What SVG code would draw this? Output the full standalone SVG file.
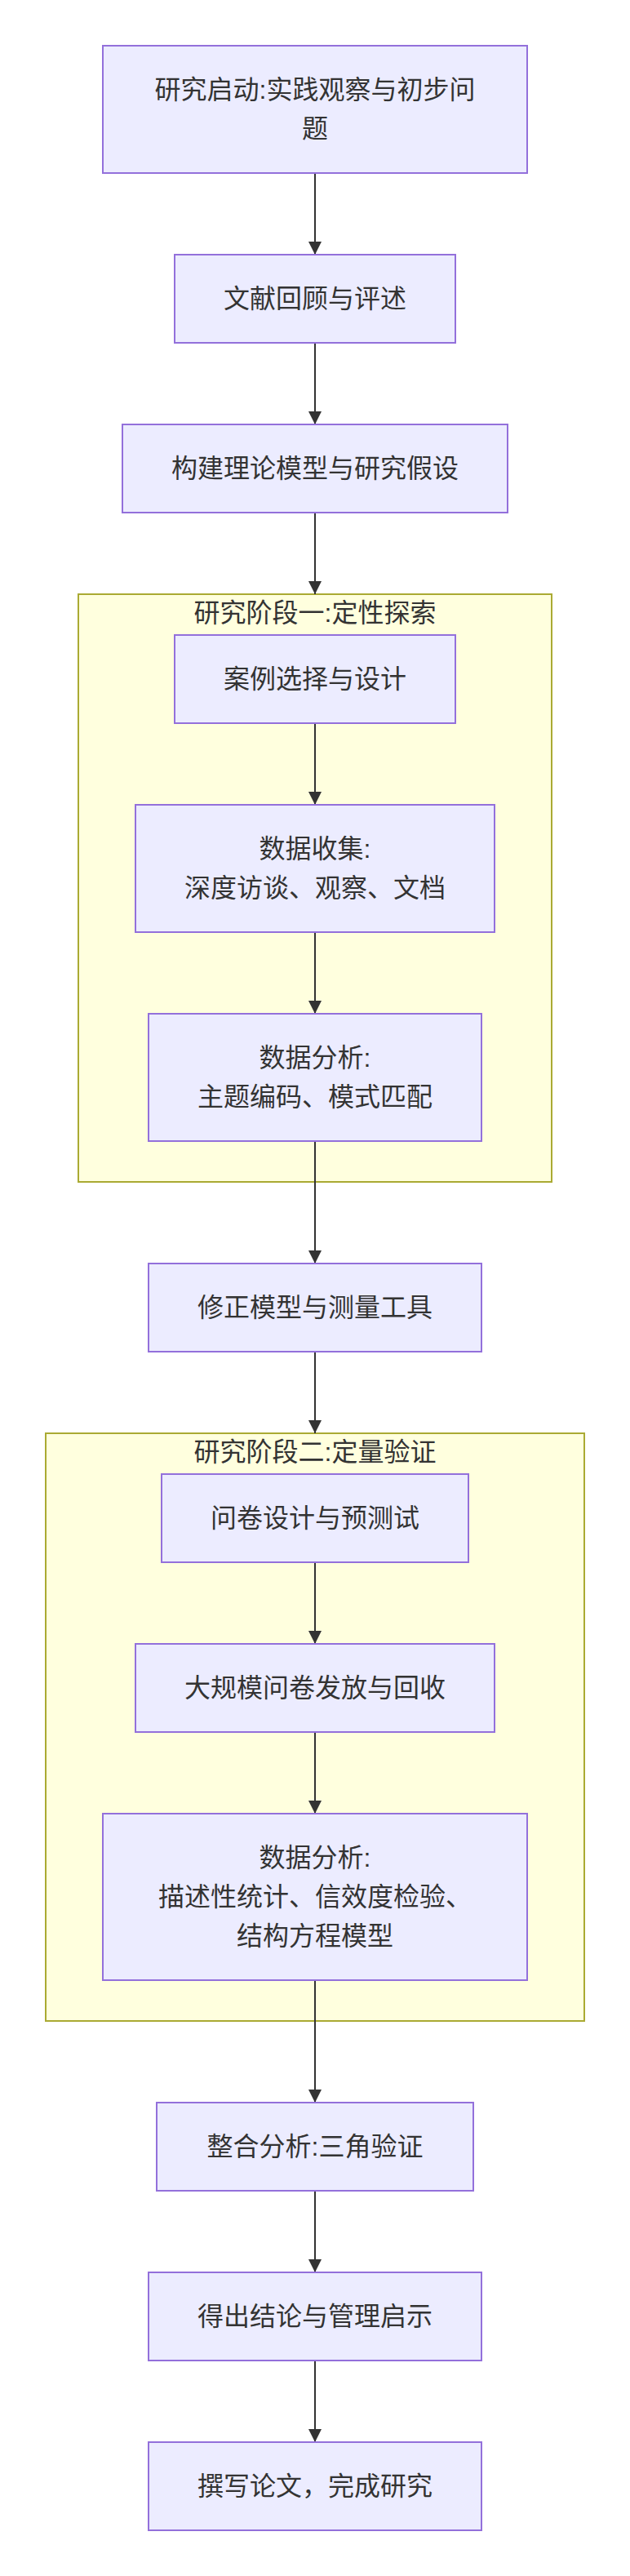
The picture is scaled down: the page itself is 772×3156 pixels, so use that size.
<svg xmlns="http://www.w3.org/2000/svg" width="772" height="3156" viewBox="0 0 772 3156">
<style>
.node rect{fill:#ECECFF;stroke:#9370DB;stroke-width:2}
.cluster rect{fill:#FFFFDE;stroke:#AAAA33;stroke-width:2}
text{font-family:"Liberation Sans","Noto Sans CJK SC",sans-serif;font-size:32px;fill:#333333;text-anchor:middle;dominant-baseline:central}
.edges line{stroke:#333333;stroke-width:2;fill:none}
</style>
<defs>
<marker id="arrow" markerUnits="userSpaceOnUse" markerWidth="16" markerHeight="16" refX="16" refY="8" orient="auto">
<path d="M0,0 L16,8 L0,16 z" fill="#333333"/>
</marker>
</defs>
<rect width="772" height="3156" fill="#FFFFFF"/>
<g id="cluster1" class="cluster">
<rect x="96" y="728" width="580" height="720"/>
<text x="386" y="751">研究阶段一:定性探索</text>
</g>
<g id="cluster2" class="cluster">
<rect x="56" y="1756" width="660" height="720"/>
<text x="386" y="1779">研究阶段二:定量验证</text>
</g>
<g id="edges" class="edges">
<line x1="386" y1="212" x2="386" y2="312" marker-end="url(#arrow)"/>
<line x1="386" y1="420" x2="386" y2="520" marker-end="url(#arrow)"/>
<line x1="386" y1="628" x2="386" y2="728" marker-end="url(#arrow)"/>
<line x1="386" y1="886" x2="386" y2="986" marker-end="url(#arrow)"/>
<line x1="386" y1="1142" x2="386" y2="1242" marker-end="url(#arrow)"/>
<line x1="386" y1="1398" x2="386" y2="1548" marker-end="url(#arrow)"/>
<line x1="386" y1="1656" x2="386" y2="1756" marker-end="url(#arrow)"/>
<line x1="386" y1="1914" x2="386" y2="2014" marker-end="url(#arrow)"/>
<line x1="386" y1="2122" x2="386" y2="2222" marker-end="url(#arrow)"/>
<line x1="386" y1="2426" x2="386" y2="2576" marker-end="url(#arrow)"/>
<line x1="386" y1="2684" x2="386" y2="2784" marker-end="url(#arrow)"/>
<line x1="386" y1="2892" x2="386" y2="2992" marker-end="url(#arrow)"/>
</g>
<g id="n1" class="node">
<rect x="126" y="56" width="520" height="156"/>
<text x="386" y="110">研究启动:实践观察与初步问</text>
<text x="386" y="158">题</text>
</g>
<g id="n2" class="node">
<rect x="214" y="312" width="344" height="108"/>
<text x="386" y="366">文献回顾与评述</text>
</g>
<g id="n3" class="node">
<rect x="150" y="520" width="472" height="108"/>
<text x="386" y="574">构建理论模型与研究假设</text>
</g>
<g id="n4" class="node">
<rect x="214" y="778" width="344" height="108"/>
<text x="386" y="832">案例选择与设计</text>
</g>
<g id="n5" class="node">
<rect x="166" y="986" width="440" height="156"/>
<text x="386" y="1040">数据收集:</text>
<text x="386" y="1088">深度访谈、观察、文档</text>
</g>
<g id="n6" class="node">
<rect x="182" y="1242" width="408" height="156"/>
<text x="386" y="1296">数据分析:</text>
<text x="386" y="1344">主题编码、模式匹配</text>
</g>
<g id="n7" class="node">
<rect x="182" y="1548" width="408" height="108"/>
<text x="386" y="1602">修正模型与测量工具</text>
</g>
<g id="n8" class="node">
<rect x="198" y="1806" width="376" height="108"/>
<text x="386" y="1860">问卷设计与预测试</text>
</g>
<g id="n9" class="node">
<rect x="166" y="2014" width="440" height="108"/>
<text x="386" y="2068">大规模问卷发放与回收</text>
</g>
<g id="n10" class="node">
<rect x="126" y="2222" width="520" height="204"/>
<text x="386" y="2276">数据分析:</text>
<text x="386" y="2324">描述性统计、信效度检验、</text>
<text x="386" y="2372">结构方程模型</text>
</g>
<g id="n11" class="node">
<rect x="192" y="2576" width="388" height="108"/>
<text x="386" y="2630">整合分析:三角验证</text>
</g>
<g id="n12" class="node">
<rect x="182" y="2784" width="408" height="108"/>
<text x="386" y="2838">得出结论与管理启示</text>
</g>
<g id="n13" class="node">
<rect x="182" y="2992" width="408" height="108"/>
<text x="386" y="3046">撰写论文，完成研究</text>
</g>
</svg>
